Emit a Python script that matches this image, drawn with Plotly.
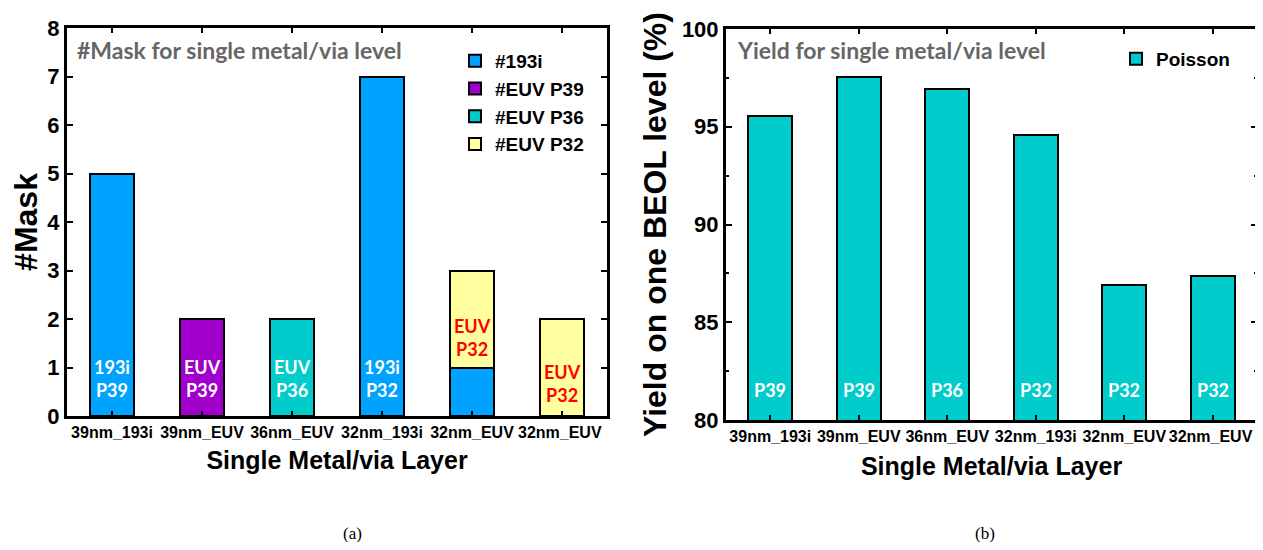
import plotly.graph_objects as go

categories = ["39nm_193i", "39nm_EUV", "36nm_EUV", "32nm_193i", "32nm_EUV", "32nm_EUV "]

# Left panel (#Mask), stacked
mask_193i = [5, None, None, 7, 1, None]
mask_euv_p39 = [None, 2, None, None, None, None]
mask_euv_p36 = [None, None, 2, None, None, None]
mask_euv_p32 = [None, None, None, None, 2, 2]

# Right panel (yield, %)
yield_poisson = [95.55, 97.55, 96.95, 94.6, 86.9, 87.35]

# In-bar labels
left_label_text = ["193i<br>P39", "EUV<br>P39", "EUV<br>P36", "193i<br>P32", "EUV<br>P32", "EUV<br>P32"]
left_label_y = [0.78, 0.78, 0.78, 0.78, 1.62, 0.68]
left_label_color = ["white", "white", "white", "white", "#ff0000", "#ff0000"]
right_label_text = ["P39", "P39", "P36", "P32", "P32", "P32"]
right_label_y = [81.55] * 6

C_193I = "#00a2ff"
C_P39 = "#a100cc"
C_P36 = "#00cccc"
C_P32 = "#ffffa0"

# page body has an 8px margin; figure is sized so it fills the 1263x550 window
OFF = 8
W, H = 1263 - OFF, 550 - 2 * OFF


def px(x):
    return (x - OFF) / W


def py(y):
    return 1 - (y - OFF) / H


bar_line = dict(color="black", width=2)
fig = go.Figure()

for name, vals, col in [("#193i", mask_193i, C_193I), ("#EUV P39", mask_euv_p39, C_P39),
                        ("#EUV P36", mask_euv_p36, C_P36), ("#EUV P32", mask_euv_p32, C_P32)]:
    fig.add_trace(go.Bar(x=categories, y=vals, name=name, marker=dict(color=col, line=bar_line),
                         width=0.49, xaxis="x", yaxis="y", legend="legend"))

fig.add_trace(go.Bar(x=categories, y=yield_poisson, name="Poisson",
                     marker=dict(color=C_P36, line=bar_line), width=0.5,
                     xaxis="x2", yaxis="y2", legend="legend2"))

lab_font = dict(family="Lato, Open Sans", size=18, weight="bold")
for c, t, yv, col in zip(categories, left_label_text, left_label_y, left_label_color):
    fig.add_annotation(x=c, y=yv, xref="x", yref="y", text=t, showarrow=False,
                       font=dict(lab_font, color=col))
for c, t, yv in zip(categories, right_label_text, right_label_y):
    fig.add_annotation(x=c, y=yv, xref="x2", yref="y2", text=t, showarrow=False,
                       font=dict(lab_font, color="white"))

title_font = dict(family="Lato, Open Sans", size=23, weight="bold", color="#666666")
fig.add_annotation(x=px(75), y=py(50), xref="paper", yref="paper", xanchor="left", yanchor="middle",
                   text="#Mask for single metal/via level", showarrow=False, font=title_font)
fig.add_annotation(x=px(735), y=py(50), xref="paper", yref="paper", xanchor="left", yanchor="middle",
                   text="Yield for single metal/via level", showarrow=False, font=title_font)

cap_font = dict(family="Liberation Serif, Times New Roman", size=17, color="black")
fig.add_annotation(x=px(352), y=py(533), xref="paper", yref="paper", text="(a)",
                   xanchor="center", yanchor="middle", showarrow=False, font=cap_font)
fig.add_annotation(x=px(985), y=py(533), xref="paper", yref="paper", text="(b)",
                   xanchor="center", yanchor="middle", showarrow=False, font=cap_font)

axis_common = dict(showline=True, linewidth=3, linecolor="black", mirror="allticks", automargin=False,
                   ticks="inside", tickwidth=2, tickcolor="black", showgrid=False, zeroline=False)
xtick_font = dict(family="Liberation Sans, Arial", size=16, color="black", weight="bold")
ytick_font = dict(family="Liberation Sans, Arial", size=22, color="black", weight="bold")
xtitle_font = dict(family="Liberation Sans, Arial", size=25, color="black", weight="bold")
ytitle_font = dict(family="Liberation Sans, Arial", size=32, color="black", weight="bold")
leg_font = dict(family="Liberation Sans, Arial", size=19, color="black", weight="bold")

fig.update_layout(
    width=W, height=H,
    margin=dict(l=0, r=0, t=0, b=0, autoexpand=False),
    plot_bgcolor="white", paper_bgcolor="white",
    barmode="stack",
    xaxis=dict(axis_common, domain=[px(67), px(607)], anchor="y", ticklen=5, tickangle=0,
               tickfont=xtick_font, range=[-0.5, 5.5],
               title=dict(text="Single Metal/via Layer", font=xtitle_font, standoff=12)),
    yaxis=dict(axis_common, domain=[py(416), py(28)], anchor="x", range=[0, 8],
               dtick=1, ticklen=6, tickfont=ytick_font,
               title=dict(text="#Mask", font=ytitle_font, standoff=6)),
    xaxis2=dict(axis_common, domain=[px(726), px(1257)], anchor="y2", ticklen=5, tickangle=0,
                tickfont=xtick_font, range=[-0.5, 5.5],
                title=dict(text="Single Metal/via Layer", font=xtitle_font, standoff=14)),
    yaxis2=dict(axis_common, domain=[py(420), py(29)], anchor="x2", range=[80, 100],
                dtick=5, ticklen=6, tickfont=ytick_font,
                minor=dict(dtick=2.5, ticks="inside", ticklen=3, tickwidth=2, tickcolor="black"),
                title=dict(text="Yield on one BEOL level (%)", font=ytitle_font, standoff=6)),
    legend=dict(x=px(455), y=py(42), xanchor="left", yanchor="top", bgcolor="rgba(0,0,0,0)",
                font=leg_font, tracegroupgap=0, traceorder="normal"),
    legend2=dict(x=px(1116), y=py(40), xanchor="left", yanchor="top", bgcolor="rgba(0,0,0,0)",
                 font=leg_font),
)

fig.write_html("out.html")
